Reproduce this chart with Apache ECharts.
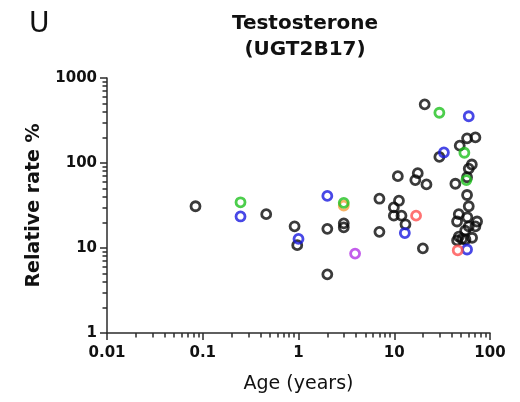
<!DOCTYPE html>
<html>
<head>
<meta charset="utf-8">
<script src="https://cdn.jsdelivr.net/npm/echarts@6/dist/echarts.min.js"></script>
<style>
  html, body { margin: 0; padding: 0; background: #fff; }
  #chart { width: 520px; height: 402px; }
</style>
</head>
<body>
<div id="chart"></div>
<script>
// Age (years) vs relative glucuronidation rate (%), one array per donor group colour
const blackPoints = [
  [0.084, 31], [0.46, 25], [0.91, 18], [0.97, 10.8], [2.0, 16.8], [2.0, 4.9],
  [2.97, 19.5], [2.97, 17.5], [7.0, 38], [7.0, 15.5], [10.9, 70], [17.6, 76],
  [16.6, 63], [21.7, 56], [11.2, 36], [9.9, 30], [9.9, 24], [11.9, 24],
  [13.1, 19], [19.9, 9.9], [20.8, 490], [29.6, 118], [57.6, 195], [70.4, 200],
  [48.3, 160], [64.6, 96], [60, 86], [57.6, 68], [43.5, 57], [57.6, 42],
  [60, 31], [47.2, 25], [58, 23], [45.3, 20.5], [73.3, 20.5], [60, 18],
  [70.4, 18], [55, 16], [47.2, 13.6], [55.4, 12.6], [65, 13.2], [45.3, 12.3],
  [51, 12.8]
];
const greenPoints = [[0.248, 34.5], [2.97, 34], [29.6, 390], [54, 132], [56.7, 63]];
const bluePoints = [[0.248, 23.5], [1.0, 12.8], [2.0, 41], [12.9, 15], [33, 133], [60, 355], [57.6, 9.6]];
const redPoints = [[16.9, 24], [46, 9.4]];
const orangePoints = [[2.97, 31.5]];
const magentaPoints = [[3.9, 8.6]];

const xTicks = [0.01, 0.1, 1, 10, 100];
const yTicks = [1, 10, 100, 1000];

// minor tick positions (2..9 within each decade)
function minorValues(decades) {
  const out = [];
  for (let d = 0; d < decades.length - 1; d++) {
    for (let k = 2; k <= 9; k++) out.push(decades[d] * k);
  }
  return out;
}
const xMinor = minorValues(xTicks);
const yMinor = minorValues(yTicks);

const FONT = 'DejaVu Sans';
const AXIS_COLOR = '#2b2b2b';

function tickText(list) {
  return v => String(list.find(t => Math.abs(Math.log10(t) - Math.log10(v)) < 1e-6) ?? v);
}

function ring(name, data, color) {
  return {
    name: name,
    type: 'scatter',
    xAxisIndex: 0,
    yAxisIndex: 0,
    data: data,
    symbol: 'circle',
    symbolSize: 9,
    itemStyle: { color: 'rgba(255,255,255,0)', borderColor: color, borderWidth: 2.8 },
    emphasis: { disabled: true },
    z: 3
  };
}

// overlay axis carrying only the short minor ticks
function minorAxis(base, values, position) {
  return {
    type: 'log', logBase: 10, min: base[0], max: base[base.length - 1],
    position: position, offset: 0,
    axisLine: { show: false },
    axisTick: { show: true, inside: false, length: 4.5, customValues: values, lineStyle: { color: AXIS_COLOR, width: 1.5 } },
    axisLabel: { show: false },
    splitLine: { show: false }
  };
}

const chart = echarts.init(document.getElementById('chart'), null, { renderer: 'canvas' });

chart.setOption({
  animation: false,
  backgroundColor: '#ffffff',
  title: [
    {
      text: 'Testosterone\n(UGT2B17)',
      left: 300, top: 6, textAlign: 'center',
      textStyle: { fontFamily: FONT, fontWeight: 'bold', fontSize: 20, lineHeight: 26, color: '#111' }
    },
    {
      text: 'U',
      left: 24, top: 6,
      textStyle: { fontFamily: FONT, fontWeight: 'normal', fontSize: 28, color: '#111' }
    }
  ],
  grid: { left: 107, right: 30, top: 78, bottom: 69, containLabel: false },
  xAxis: [
    {
      type: 'log', logBase: 10, min: 0.01, max: 100, position: 'bottom',
      name: 'Age (years)', nameLocation: 'middle', nameGap: 42,
      nameTextStyle: { fontFamily: FONT, fontWeight: 500, fontSize: 19, color: '#111' },
      axisLine: { show: true, onZero: false, lineStyle: { color: AXIS_COLOR, width: 1.5 } },
      axisTick: { show: true, inside: false, length: 7, lineStyle: { color: AXIS_COLOR, width: 1.5 } },
      axisLabel: { fontFamily: FONT, fontWeight: 'bold', fontSize: 15, color: '#111', margin: 13, formatter: tickText(xTicks) },
      splitLine: { show: false }
    },
    minorAxis(xTicks, xMinor, 'bottom')
  ],
  yAxis: [
    {
      type: 'log', logBase: 10, min: 1, max: 1000, position: 'left',
      name: 'Relative rate %', nameLocation: 'middle', nameGap: 63, nameRotate: 90,
      nameTextStyle: { fontFamily: FONT, fontWeight: 'bold', fontSize: 19, color: '#111' },
      axisLine: { show: true, onZero: false, lineStyle: { color: AXIS_COLOR, width: 1.5 } },
      axisTick: { show: true, inside: false, length: 7, lineStyle: { color: AXIS_COLOR, width: 1.5 } },
      axisLabel: { fontFamily: FONT, fontWeight: 'bold', fontSize: 15, color: '#111', margin: 10, formatter: tickText(yTicks) },
      splitLine: { show: false }
    },
    minorAxis(yTicks, yMinor, 'left')
  ],
  series: [
    ring('orange', orangePoints, '#f5a040'),
    ring('black', blackPoints, '#0a0a0a'),
    ring('green', greenPoints, '#1fc21f'),
    ring('blue', bluePoints, '#1a1ae0'),
    ring('red', redPoints, '#ff5050'),
    ring('magenta', magentaPoints, '#b435e6')
  ]
});
</script>
</body>
</html>
